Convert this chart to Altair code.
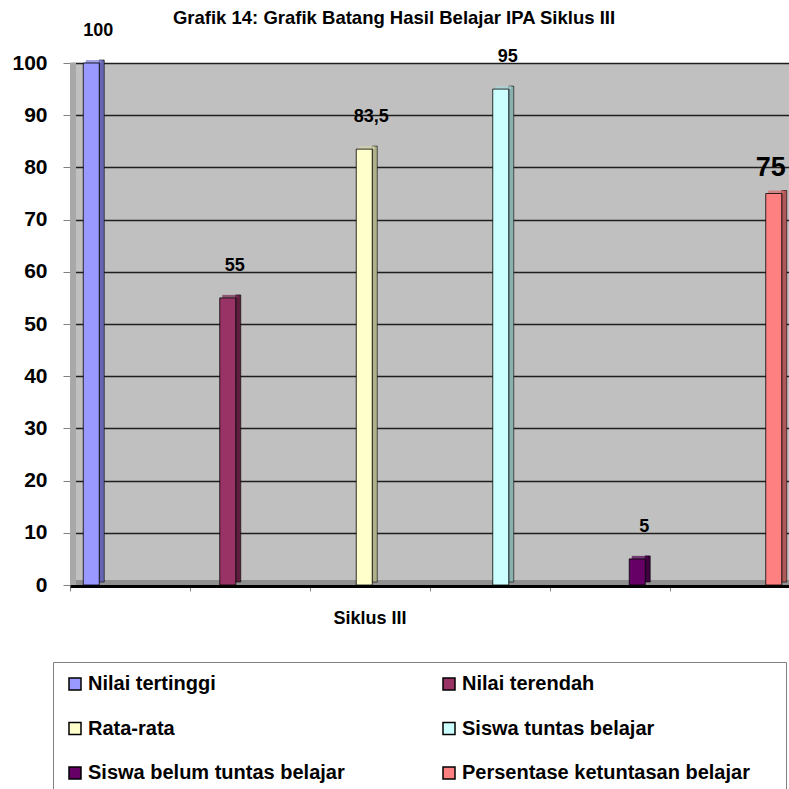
import altair as alt
import pandas as pd

# Series shown in the single "Siklus III" group
series = [
    "Nilai tertinggi",
    "Nilai terendah",
    "Rata-rata",
    "Siswa tuntas belajar",
    "Siswa belum tuntas belajar",
    "Persentase ketuntasan belajar",
]
values = [100, 55, 83.5, 95, 5, 75]
highlight = "Persentase ketuntasan belajar"

# Face colours for the pseudo-3D columns
front_colors = ["#9999FF", "#993366", "#FFFFCC", "#CCFFFF", "#660066", "#FF8080"]
side_colors = ["#6666B0", "#5E1F3F", "#B0B08A", "#8AB0B0", "#3F003F", "#B05858"]
top_colors = ["#7E7ED6", "#7A2A52", "#D6D6AA", "#AAD6D6", "#520052", "#D66B6B"]

ticks_x = [0, 1, 2, 3, 4, 5]
y_ticks = list(range(0, 101, 10))

FONT = "Liberation Sans"
PLOT_W, PLOT_H = 719, 522


def fmt(v):
    return f"{v:g}".replace(".", ",")


df = pd.DataFrame({
    "series": series,
    "value": values,
    "label": [fmt(v) for v in values],
    "side": side_colors,
    "top": top_colors,
})
one = pd.DataFrame({"k": [0]})

# ---- back wall / floor decoration with the category tick axis ----
x_max = PLOT_W / 120
x_lin = alt.XDatum(
    0, type="quantitative",
    scale=alt.Scale(domain=[0, x_max], nice=False, zero=False),
    axis=alt.Axis(
        values=ticks_x, labels=False, grid=False,
        tickSize=5, tickColor="#808080", tickWidth=1,
        domainColor="#000000", domainWidth=3, offset=1,
        title="Siklus III", titleFont=FONT, titleFontSize=18,
        titleFontWeight="bold", titleColor="#000000",
        titleX=299.5, titleY=37, titleBaseline="alphabetic",
    ),
)
floor = alt.Chart(one).mark_rule(color="#909090", strokeWidth=5, yOffset=-2.5).encode(
    x=x_lin, x2=alt.X2Datum(x_max), y=alt.YDatum(0)
)
wall = alt.Chart(one).mark_rule(color="#a8a8a8", strokeWidth=6, xOffset=3).encode(
    x=alt.XDatum(0, type="quantitative"), y=alt.YDatum(0), y2=alt.Y2Datum(100)
)
deco = alt.layer(floor, wall)

# ---- columns ----
x_band = alt.X(
    "series:N", sort=series,
    scale=alt.Scale(type="band", range=[0, 725], paddingInner=0.8828, paddingOuter=0.0971),
    axis=None,
)
y_val = alt.Y(
    "value:Q",
    scale=alt.Scale(domain=[0, 100], nice=False),
    axis=alt.Axis(
        values=y_ticks, title=None,
        labelFont=FONT, labelFontSize=21, labelFontWeight="bold", labelColor="#000000",
        labelPadding=16, tickSize=7, tickColor="#808080",
        domainColor="#5a5a5a", domainWidth=1,
        grid=True, gridColor="#1e1e1e", gridWidth=1.6,
    ),
)

base = alt.Chart(df)

side = base.mark_bar(size=5, xOffset=10.5, yOffset=-3, stroke="#000000", strokeWidth=0.6).encode(
    x=x_band, y=y_val, color=alt.Color("side:N", scale=None)
)
top = base.mark_tick(orient="horizontal", thickness=3, size=16, xOffset=2.5, yOffset=-1.5).encode(
    x=x_band, y=y_val, color=alt.Color("top:N", scale=None)
)
front = base.mark_bar(stroke="#000000", strokeWidth=0.8).encode(
    x=x_band, y=y_val,
    color=alt.Color(
        "series:N", sort=series,
        scale=alt.Scale(domain=series, range=front_colors),
        legend=alt.Legend(
            orient="none", legendX=-17, legendY=599, columns=2, direction="horizontal",
            title=" ", titleOrient="right", titlePadding=24, titleFontSize=2,
            padding=12, fillColor="#ffffff", strokeColor="#808080",
            labelFont=FONT, labelFontSize=20, labelFontWeight="bold", labelColor="#000000",
            labelOffset=3, labelLimit=400,
            symbolType="square", symbolSize=144, symbolStrokeColor="#000000",
            symbolStrokeWidth=1.5, symbolOpacity=1,
            rowPadding=24.5, columnPadding=94,
        ),
    ),
)

labels = base.transform_filter(alt.datum.series != highlight).mark_text(
    font=FONT, fontSize=18, fontWeight="bold", color="#000000",
    baseline="alphabetic", dx=7, dy=-27,
).encode(x=x_band, y=y_val, text="label:N")

big_label = base.transform_filter(alt.datum.series == highlight).mark_text(
    font=FONT, fontSize=27, fontWeight="bold", color="#000000",
    baseline="alphabetic", dx=-3, dy=-18,
).encode(x=x_band, y=y_val, text="label:N")

columns = alt.layer(side, top, front, labels, big_label)

chart = (
    alt.layer(deco, columns)
    .resolve_scale(x="independent")
    .properties(
        width=PLOT_W, height=PLOT_H,
        title=alt.TitleParams(
            "Grafik 14: Grafik Batang Hasil Belajar IPA Siklus III",
            font=FONT, fontSize=18.5, fontWeight="bold", color="#000000",
            anchor="middle", frame="group", dx=-35.5, dy=20, offset=0,
            baseline="alphabetic",
        ),
        autosize=alt.AutoSizeParams(type="none"),
        padding={"left": 70, "top": 63, "right": 0, "bottom": 204},
        background="#ffffff",
    )
    .configure_view(fill="#C0C0C0", stroke=None)
)

chart.save("out.html", embed_options={"renderer": "svg", "actions": False})
